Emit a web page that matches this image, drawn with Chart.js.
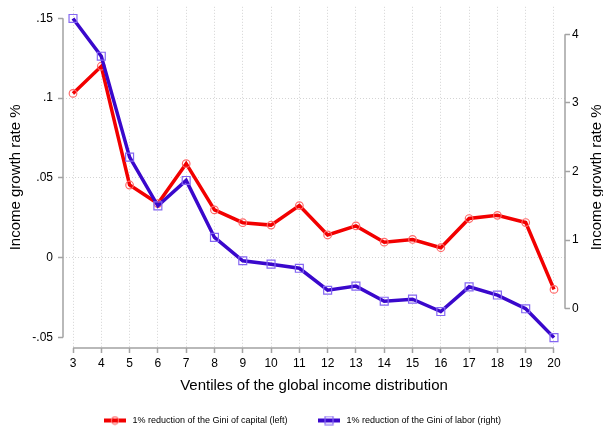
<!DOCTYPE html>
<html><head><meta charset="utf-8">
<script src="https://cdn.jsdelivr.net/npm/chart.js@4/dist/chart.umd.min.js"></script>
<style>html,body{margin:0;padding:0;background:#fff}#w{width:603px;height:435px}</style>
</head><body><div id="w"><canvas id="c" width="603" height="435"></canvas></div>
<script>
// ---- data ----
const ventiles = [3,4,5,6,7,8,9,10,11,12,13,14,15,16,17,18,19,20];
const giniCapital = [0.103,0.120,0.0456,0.034,0.059,0.030,0.022,0.0205,0.0327,0.0143,0.020,0.0098,0.0115,0.0063,0.0246,0.0266,0.0221,-0.0198];
const giniLabor = [4.23,3.68,2.21,1.50,1.87,1.04,0.70,0.65,0.59,0.27,0.33,0.11,0.14,-0.04,0.32,0.20,0.00,-0.42];
const leftTicks = [-0.05,0,0.05,0.1,0.15];
const leftTickLabels = ['-.05','0','.05','.1','.15'];
const rightTicks = [0,1,2,3,4];
const rightTickLabels = ['0','1','2','3','4'];
const xTitle = 'Ventiles of the global income distribution';
const yTitle = 'Income growth rate %';
const seriesNames = ['1% reduction of the Gini of capital (left)','1% reduction of the Gini of labor (right)'];

// ---- styles ----
const FAM = "'Liberation Sans', Arial, Helvetica, sans-serif";
const AXIS = '#a3a3a3';
const GRID = '#d4d4d4';
const RED = '#f20000', RED_L = '#ff6a6a';
const BLUE = '#3a08cc', BLUE_L = '#8466f2';

function makeSymbol(color, light, shape){
  const c = document.createElement('canvas'); c.width = 22; c.height = 10;
  const g = c.getContext('2d');
  g.strokeStyle = color; g.lineWidth = 4; g.beginPath(); g.moveTo(0,5); g.lineTo(22,5); g.stroke();
  g.strokeStyle = light; g.lineWidth = 1.2;
  g.beginPath();
  if (shape === 'circle') g.arc(11,5,3.6,0,Math.PI*2); else g.rect(7,1,8,8);
  g.stroke();
  return c;
}
const symbols = [makeSymbol(RED, RED_L, 'circle'), makeSymbol(BLUE, BLUE_L, 'rect')];

const axesPlugin = {
  id: 'stataAxes',
  beforeDatasetsDraw(chart){
    const {ctx} = chart; const {x, y, y2} = chart.scales;
    ctx.save();
    ctx.strokeStyle = AXIS; ctx.lineWidth = 1.5; ctx.beginPath();
    ctx.moveTo(y.right, y.getPixelForValue(leftTicks[leftTicks.length-1]));
    ctx.lineTo(y.right, y.getPixelForValue(leftTicks[0]));
    ctx.moveTo(y2.left, y2.getPixelForValue(rightTicks[rightTicks.length-1]));
    ctx.lineTo(y2.left, y2.getPixelForValue(rightTicks[0]));
    ctx.moveTo(x.getPixelForValue(ventiles[0]), x.top);
    ctx.lineTo(x.getPixelForValue(ventiles[ventiles.length-1]), x.top);
    ctx.stroke();
    ctx.restore();
  },
  afterDraw(chart){
    const {ctx} = chart; const y2 = chart.scales.y2;
    ctx.save();
    ctx.font = '15px ' + FAM; ctx.fillStyle = '#000';
    ctx.textAlign = 'center'; ctx.textBaseline = 'middle';
    ctx.translate(chart.width - 6, (y2.top + y2.bottom)/2);
    ctx.rotate(-Math.PI/2);
    ctx.fillText(yTitle, 0, 0);
    ctx.restore();
  }
};

new Chart(document.getElementById('c'), {
  type: 'line',
  data: {
    datasets: [
      { label: seriesNames[0], yAxisID: 'y', order: 2,
        data: ventiles.map((v,i)=>({x:v, y:giniCapital[i]})),
        borderColor: RED, borderWidth: 3.5, tension: 0,
        pointStyle: 'circle', pointRadius: 3.8, pointBorderWidth: 1.2,
        pointBorderColor: RED_L, pointBackgroundColor: 'rgba(0,0,0,0)' },
      { label: seriesNames[1], yAxisID: 'y2', order: 1,
        data: ventiles.map((v,i)=>({x:v, y:giniLabor[i]})),
        borderColor: BLUE, borderWidth: 3.5, tension: 0,
        pointStyle: 'rect', pointRadius: 5.6, pointBorderWidth: 1.2,
        pointBorderColor: BLUE_L, pointBackgroundColor: 'rgba(0,0,0,0)' }
    ]
  },
  options: {
    responsive: false, animation: false, devicePixelRatio: 1, events: [],
    layout: { padding: 0 },
    plugins: {
      tooltip: { enabled: false },
      legend: {
        position: 'bottom',
        labels: {
          font: { family: FAM, size: 9 }, color: '#000',
          usePointStyle: true, pointStyleWidth: 26, padding: 28.5,
          generateLabels: chart => chart.data.datasets.map((d,i)=>({
            text: d.label, pointStyle: symbols[i], fillStyle: d.borderColor,
            strokeStyle: d.borderColor, lineWidth: 0, hidden: false, datasetIndex: i, fontColor: '#000'
          }))
        }
      }
    },
    scales: {
      x: {
        type: 'linear', min: 2.6465, max: 20.389,
        afterBuildTicks: s => { s.ticks = ventiles.map(v=>({value:v})); },
        afterFit: s => { s.height = 39.5; s.paddingLeft = 0; s.paddingRight = 0; },
        border: { display: false, dash: [1,2] },
        grid: { color: GRID, lineWidth: 1, tickLength: 5, tickColor: AXIS, tickWidth: 1.5 },
        ticks: { font: { family: FAM, size: 12 }, color: '#000', padding: 3, maxRotation: 0, autoSkip: false,
                 callback: (v,i) => String(ventiles[i]) },
        title: { display: true, text: xTitle, font: { family: FAM, size: 15 }, color: '#000', padding: { top: 0, bottom: -7.5 } }
      },
      y: {
        type: 'linear', position: 'left', min: -0.0565, max: 0.15725,
        afterBuildTicks: s => { s.ticks = leftTicks.map(v=>({value:v})); },
        afterFit: s => { s.width = 63; s.paddingTop = 0; s.paddingBottom = 0; },
        border: { display: false, dash: [1,2] },
        grid: { color: c => (c.index === 0 || c.index === leftTicks.length-1) ? 'rgba(0,0,0,0)' : GRID,
                lineWidth: 1, tickLength: 5, tickColor: AXIS, tickWidth: 1.5 },
        ticks: { font: { family: FAM, size: 12 }, color: '#000', padding: 5, callback: (v,i) => leftTickLabels[i] },
        title: { display: true, text: yTitle, font: { family: FAM, size: 15 }, color: '#000', padding: { top: 7, bottom: 0 } }
      },
      y2: {
        type: 'linear', position: 'right', min: -0.5714, max: 4.4,
        afterBuildTicks: s => { s.ticks = rightTicks.map(v=>({value:v})); },
        afterFit: s => { s.width = 38; s.paddingTop = 0; s.paddingBottom = 0; },
        border: { display: false },
        grid: { drawOnChartArea: false, tickLength: 5, tickColor: AXIS, tickWidth: 1.5 },
        ticks: { font: { family: FAM, size: 12 }, color: '#000', padding: 2, callback: (v,i) => rightTickLabels[i] }
      }
    }
  },
  plugins: [axesPlugin]
});
</script>
</body></html>
